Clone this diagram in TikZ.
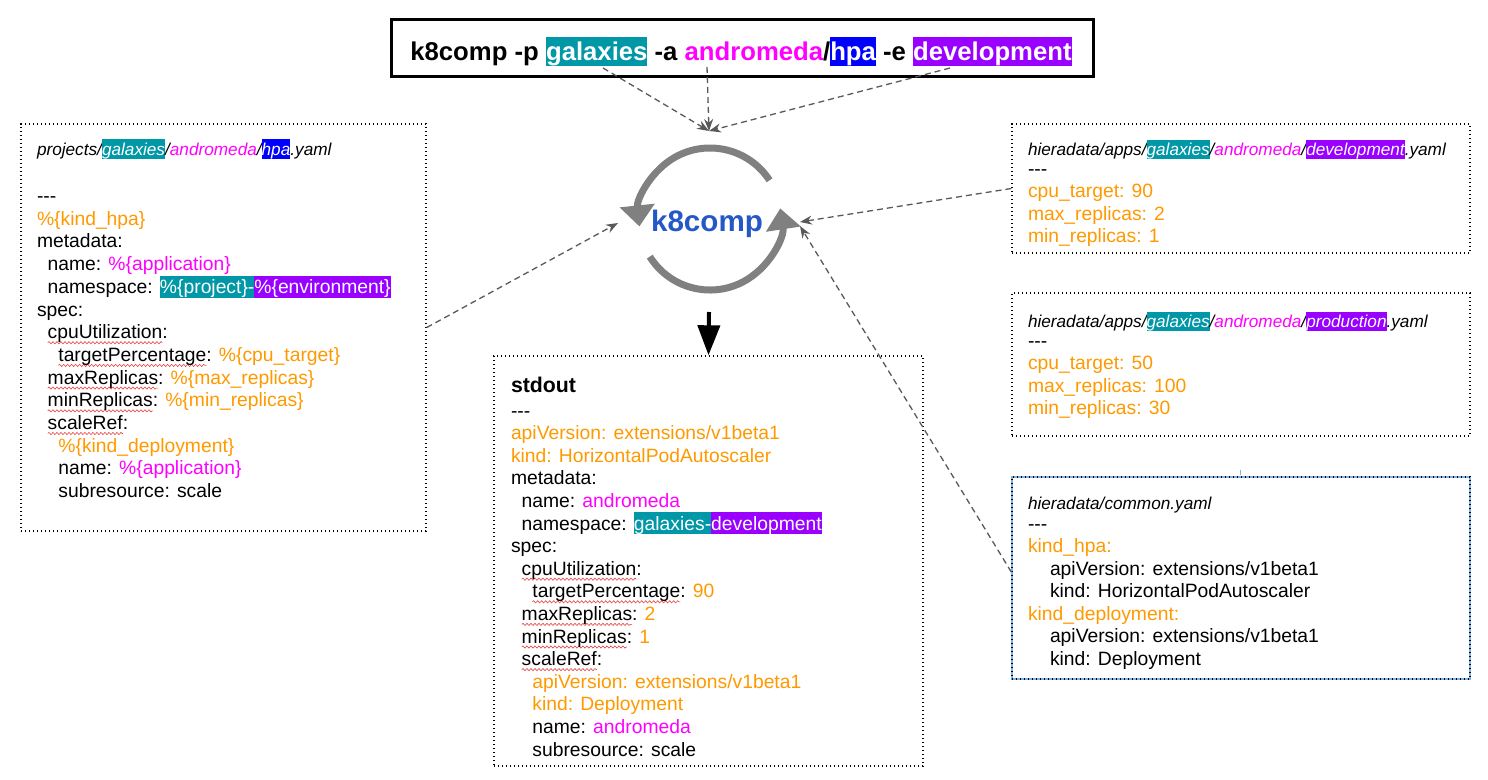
\documentclass[tikz,border=0pt]{standalone}
\usepackage{fontspec}
\setmainfont{Liberation Sans}
\usetikzlibrary{arrows.meta,decorations.pathmorphing}

\definecolor{orng}{HTML}{FF9900}
\definecolor{mgnt}{HTML}{FF00FF}
\definecolor{tealhl}{HTML}{0097A7}
\definecolor{bluhl}{HTML}{0000FF}
\definecolor{purphl}{HTML}{9900FF}
\definecolor{kblue}{HTML}{2458C6}
\definecolor{cgray}{HTML}{808080}
\definecolor{dgray}{HTML}{595959}
\definecolor{selblue}{HTML}{7FB2E5}
\definecolor{spellred}{HTML}{E84040}

\newcommand\bodyfont{\fontsize{19.3}{22.7}\selectfont}
\newcommand\pathfont{\fontsize{17.2}{20}\selectfont\itshape}
\newcommand\hlt[2]{{\setlength\fboxsep{0pt}\colorbox{#1}{\rule[-0.22em]{0pt}{1.13em}\textcolor{white}{#2}}}}
\newcommand\og[1]{\textcolor{orng}{#1}}
\newcommand\mg[1]{\textcolor{mgnt}{#1}}
\newcommand\ia{\hspace*{10.7pt}}
\newcommand\tripdash{-{}-{}-}
\newsavebox\wavybox
\newlength\wavylen
\newcommand\wavy[1]{\sbox\wavybox{#1}\setlength\wavylen{\wd\wavybox}%
  \rlap{\tikz[overlay,baseline=0pt]\draw[spellred,line width=0.6pt,decorate,
    decoration={snake,amplitude=1.1pt,segment length=4pt}] (0pt,-4pt) -- (\wavylen,-4pt);}%
  \usebox\wavybox}

\begin{document}
\begin{tikzpicture}[x=1pt,y=-1pt,
  ln/.style={anchor=base west,inner sep=0pt,outer sep=0pt,font=\bodyfont},
  dotbox/.style={draw=black,line width=1.4pt,dash pattern=on 1.4pt off 2.6pt,inner sep=0pt},
  link/.style={draw=dgray,line width=1.3pt,dash pattern=on 6pt off 4pt,-{Stealth[length=12pt,width=9pt]}},
  circarrow/.style={draw=cgray,line width=7pt,-{Triangle[width=34pt,length=21pt]}}]

\useasboundingbox (0,0) rectangle (1488,779);

% ---------- title ----------
\node[draw=black,line width=3pt,minimum width=702,minimum height=57,inner sep=0pt] (titlebox) at (742,47.5) {};
\node[anchor=base,inner sep=0pt] (titletext) at (741,60.5)
  {\fontsize{25.7}{30}\selectfont\bfseries k8comp -p \hlt{tealhl}{galaxies} -a \mg{andromeda}/\hlt{bluhl}{hpa} -e \hlt{purphl}{development}};

% ---------- boxes ----------
\node[dotbox,minimum width=405,minimum height=407] (leftbox) at (223.5,327.5) {};
\node[dotbox,minimum width=458,minimum height=129] (r1box) at (1241,188.5) {};
\node[dotbox,minimum width=458,minimum height=143] (r2box) at (1241,364.5) {};
\node[draw=selblue,line width=2.2pt,minimum width=458,minimum height=202,inner sep=0pt] (cboxsel) at (1241,578) {};
\node[dotbox,minimum width=458,minimum height=202] (cbox) at (1241,578) {};
\draw[selblue,line width=1pt] (1240,470) -- (1240,475);
\node[dotbox,minimum width=429,minimum height=410] (sbox) at (708.5,561) {};

% ---------- left box text ----------
\node[ln] (lpath) at (37,155) {\pathfont projects/\hlt{tealhl}{galaxies}/\mg{andromeda}/\hlt{bluhl}{hpa}.yaml};
\foreach \t [count=\i] in {
  {\tripdash},
  {\og{\%\{kind\_hpa\}}},
  {metadata:},
  {\ia name: \mg{\%\{application\}}},
  {\ia namespace: \hlt{tealhl}{\%\{project\}-}\hlt{purphl}{\%\{environment\}}},
  {spec:},
  {\ia\wavy{cpuUtilization}:},
  {\ia\ia\wavy{targetPercentage}: \og{\%\{cpu\_target\}}},
  {\ia\wavy{maxReplicas}: \og{\%\{max\_replicas\}}},
  {\ia\wavy{minReplicas}: \og{\%\{min\_replicas\}}},
  {\ia\wavy{scaleRef}:},
  {\ia\ia\og{\%\{kind\_deployment\}}},
  {\ia\ia name: \mg{\%\{application\}}},
  {\ia\ia subresource: scale}}
  \node[ln] (L\i) at (37,{202.5+22.7*(\i-1)}) {\t};

% ---------- right box 1 ----------
\node[ln] (apath) at (1028,155.5) {\pathfont hieradata/apps/\hlt{tealhl}{galaxies}/\mg{andromeda}/\hlt{purphl}{development}.yaml};
\node[ln] (a0) at (1028,175.5) {\tripdash};
\node[ln] (a1) at (1028,197.5) {\og{cpu\_target: 90}};
\node[ln] (a2) at (1028,220) {\og{max\_replicas: 2}};
\node[ln] (a3) at (1028,242.5) {\og{min\_replicas: 1}};

% ---------- right box 2 ----------
\node[ln] (bpath) at (1028,327.5) {\pathfont hieradata/apps/\hlt{tealhl}{galaxies}/\mg{andromeda}/\hlt{purphl}{production}.yaml};
\node[ln] (b0) at (1028,347.5) {\tripdash};
\node[ln] (b1) at (1028,369.5) {\og{cpu\_target: 50}};
\node[ln] (b2) at (1028,392) {\og{max\_replicas: 100}};
\node[ln] (b3) at (1028,414.5) {\og{min\_replicas: 30}};

% ---------- common box ----------
\node[ln] (cpath) at (1028,509.5) {\pathfont hieradata/common.yaml};
\node[ln] (c0) at (1028,530.5) {\tripdash};
\node[ln] (c1) at (1028,552.5) {\og{kind\_hpa:}};
\node[ln] (c2) at (1050,575) {apiVersion: extensions/v1beta1};
\node[ln] (c3) at (1050,597.5) {kind: HorizontalPodAutoscaler};
\node[ln] (c4) at (1028,620) {\og{kind\_deployment:}};
\node[ln] (c5) at (1050,642.5) {apiVersion: extensions/v1beta1};
\node[ln] (c6) at (1050,665) {kind: Deployment};

% ---------- stdout box ----------
\node[ln] (shead) at (511,392.5) {\fontsize{21.3}{25}\selectfont\bfseries stdout};
\foreach \t [count=\i] in {
  {\tripdash},
  {\og{apiVersion: extensions/v1beta1}},
  {\og{kind: HorizontalPodAutoscaler}},
  {metadata:},
  {\ia name: \mg{andromeda}},
  {\ia namespace: \hlt{tealhl}{galaxies-}\hlt{purphl}{development}},
  {spec:},
  {\ia\wavy{cpuUtilization}:},
  {\ia\ia\wavy{targetPercentage}: \og{90}},
  {\ia\wavy{maxReplicas}: \og{2}},
  {\ia\wavy{minReplicas}: \og{1}},
  {\ia\wavy{scaleRef}:},
  {\ia\ia\og{apiVersion: extensions/v1beta1}},
  {\ia\ia\og{kind: Deployment}},
  {\ia\ia name: \mg{andromeda}},
  {\ia\ia subresource: scale}}
  \node[ln] (S\i) at (511,{417+22.6*(\i-1)}) {\t};

% ---------- k8comp cycle ----------
\coordinate (cc) at (710,219);
\draw[circarrow] (cc) ++(33:71pt) arc[start angle=33,end angle=186,radius=71pt];
\draw[circarrow] (cc) ++(212:71pt) arc[start angle=212,end angle=368.6,radius=71pt];
\node[anchor=base,inner sep=0pt] (kc) at (707,231) {\fontsize{29.6}{32}\selectfont\bfseries\color{kblue}k8comp};

% output arrow
\coordinate (dtop) at (709,312);
\draw[line width=4pt,-{Triangle[width=22pt,length=30pt]}] (dtop) -- (sbox.north);

% ---------- dashed connectors ----------
\coordinate (t1) at (603,68);
\coordinate (t2) at (707,67);
\coordinate (t3) at (950,68);
\coordinate (hub) at (709,131);
\coordinate (lhub) at (618,223);
\coordinate (rhub) at (800,222);
\coordinate (rhub2) at (800,226);
\draw[link] (t1) -- (hub);
\draw[link] (t2) -- (hub);
\draw[link] (t3) -- (hub);
\draw[link] (leftbox.east) -- (lhub);
\draw[link] (r1box.west) -- (rhub);
\draw[link] ([yshift=6pt]cbox.west) -- (rhub2);
\end{tikzpicture}
\end{document}
